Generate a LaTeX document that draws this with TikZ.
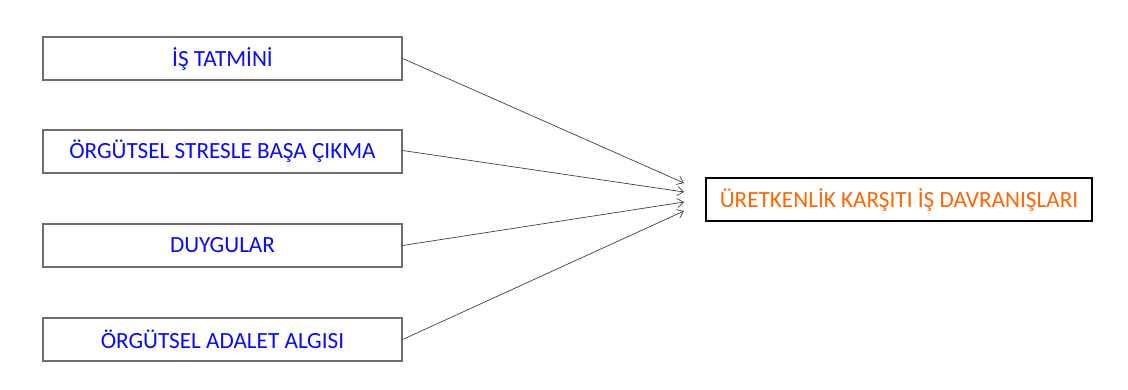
\documentclass[tikz,border=0pt]{standalone}
\usepackage{fontspec}
\setmainfont{Carlito}
\usetikzlibrary{arrows.meta}
\definecolor{boxgray}{RGB}{110,110,110}
\definecolor{txtblue}{RGB}{10,10,255}
\definecolor{txtorange}{RGB}{255,102,0}
\tikzset{
  srcbox/.style={draw=boxgray, line width=1.2pt, fill=white, minimum width=359pt, minimum height=43pt, inner sep=0pt, text=txtblue, font=\fontsize{23.2}{27}\selectfont},
  tgtbox/.style={draw=black, line width=2pt, fill=white, minimum width=386pt, minimum height=43pt, inner sep=0pt, text=txtorange, font=\fontsize{23.2}{27}\selectfont},
  link/.style={draw=black!75, line width=0.7pt, -{Straight Barb[length=6pt,width=9pt]}}
}
\begin{document}
\begin{tikzpicture}[x=1pt,y=-1pt]
\useasboundingbox (0,0) rectangle (1128,390);
\node[srcbox] (a) at (222.5,58.5) {İŞ TATMİNİ};
\node[srcbox] (b) at (222.5,151.5) {ÖRGÜTSEL STRESLE BAŞA ÇIKMA};
\node[srcbox] (c) at (222.5,245.5) {DUYGULAR};
\node[srcbox] (d) at (222.5,339.5) {ÖRGÜTSEL ADALET ALGISI};
\node[tgtbox] (t) at (899,199.5) {ÜRETKENLİK KARŞITI İŞ DAVRANIŞLARI};
\coordinate (e1) at (684,183);
\coordinate (e2) at (684,192);
\coordinate (e3) at (684,202);
\coordinate (e4) at (684,211);
\draw[link] (a.east) -- (e1);
\draw[link] ([yshift=1pt]b.east) -- (e2);
\draw[link] (c.east) -- (e3);
\draw[link] (d.east) -- (e4);
\end{tikzpicture}
\end{document}
